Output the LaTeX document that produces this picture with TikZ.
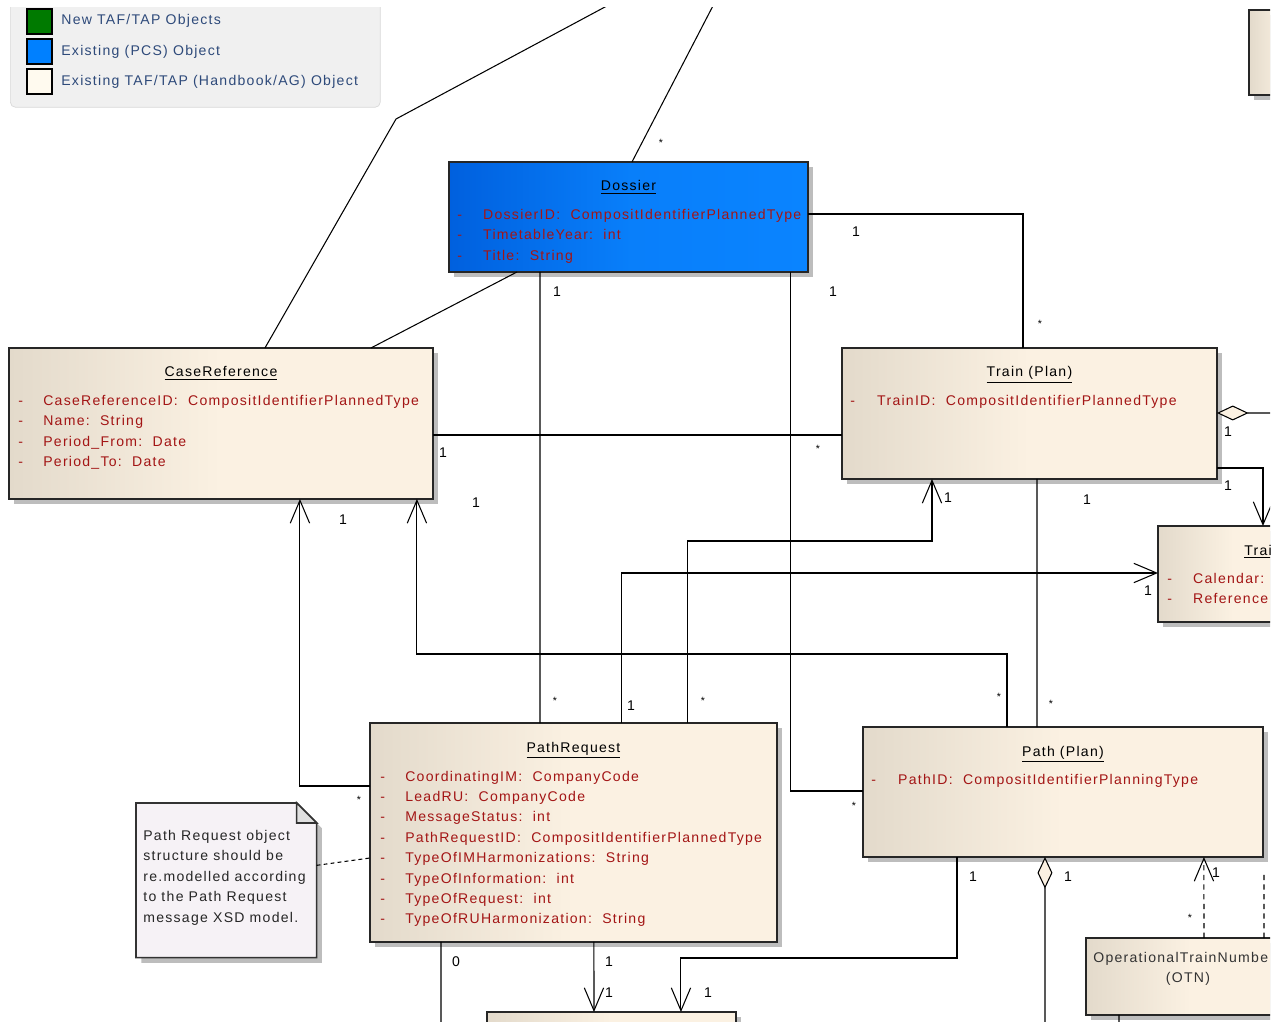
\documentclass[tikz,border=0pt]{standalone}
\usepackage{fontspec}
\setmainfont[LetterSpace=9]{Liberation Sans}
\usepackage{tikz}
\usetikzlibrary{arrows.meta}
\usetikzlibrary{shadows}
\definecolor{boxl}{HTML}{E3DACB}
\definecolor{boxr}{HTML}{FBF1E2}
\definecolor{pcsl}{HTML}{0060DE}
\definecolor{pcsr}{HTML}{0A84FF}
\definecolor{attrred}{HTML}{A31515}
\definecolor{legtext}{HTML}{2E4A7A}
\definecolor{legfill}{HTML}{F0F0F0}
\definecolor{legnew}{HTML}{007A00}
\definecolor{legpcs}{HTML}{0080FF}
\definecolor{legold}{HTML}{FFFAEF}
\definecolor{notefill}{HTML}{F6F2F6}
\definecolor{shade}{HTML}{BDBDBD}
\newcommand{\umlfont}{\fontsize{8}{10}\selectfont}
\tikzset{umlbox/.style = {draw=black!85, line width=1.1pt, inner sep=0, outer sep=0,
    anchor=north west, left color=boxl, right color=boxr, middle color=boxr,
    drop shadow={shadow xshift=3pt, shadow yshift=-3pt, fill=shade, opacity=1}}}
\tikzset{pcsbox/.style = {umlbox, left color=pcsl, right color=pcsr, middle color=pcsr!85!pcsl}}
\tikzset{title/.style = {anchor=base, inner sep=0, font=\umlfont}}
\tikzset{attr/.style = {anchor=base west, inner sep=0, text=attrred, font=\umlfont}}
\tikzset{mult/.style = {inner sep=0, font=\umlfont}}
\tikzset{multstar/.style = {inner sep=0, font=\fontsize{6}{6}\selectfont}}
\tikzset{assoc/.style = {line width=0.6pt}}
\tikzset{nav/.style = {assoc, -{Straight Barb[length=13pt, width=11pt]}}}
\tikzset{agg/.style = {assoc, {Diamond[length=18pt, width=8.5pt, fill=boxr]}-}}
\tikzset{dep/.style = {assoc, dash pattern=on 3pt off 2.5pt}}
\tikzset{notelink/.style = {assoc, dash pattern=on 2.2pt off 1.8pt}}

\begin{document}
\begin{tikzpicture}[x=0.02cm, y=-0.02cm]
  \useasboundingbox (0,0) rectangle (1281,1021);
  \fill[white] (0,0) rectangle (1281,1021);
  \clip (0,7) rectangle (1270,1021);

  % legend
  \node[draw=black!15, fill=legfill, rounded corners=3pt, anchor=north west,
    minimum width=7.4cm, minimum height=2.24cm] (legend) at (10,-5) {};
  \node[draw=black, line width=0.9pt, fill=legnew, anchor=north west, minimum size=0.5cm] (sw1) at (26,8) {};
  \node[draw=black, line width=0.9pt, fill=legpcs, anchor=north west, minimum size=0.5cm] (sw2) at (26,38) {};
  \node[draw=black, line width=0.9pt, fill=legold, anchor=north west, minimum size=0.5cm] (sw3) at (26,68) {};
  \node[anchor=base west, inner sep=0, text=legtext, font=\umlfont] (lt1) at (61,25) {New TAF/TAP Objects};
  \node[anchor=base west, inner sep=0, text=legtext, font=\umlfont] (lt2) at (61,55) {Existing (PCS) Object};
  \node[anchor=base west, inner sep=0, text=legtext, font=\umlfont] (lt3) at (61,85) {Existing TAF/TAP (Handbook/AG) Object};

  % classes
  \node[pcsbox, minimum width=7.18cm, minimum height=2.2cm] (dossier) at (449,162) {};
  \node[umlbox, minimum width=8.48cm, minimum height=3.02cm] (caseref) at (9,348) {};
  \node[umlbox, minimum width=7.5cm, minimum height=2.62cm] (train) at (842,348) {};
  \node[umlbox, minimum width=3cm, minimum height=1.92cm] (traincal) at (1158,526) {};
  \node[umlbox, minimum width=1.4cm, minimum height=1.7cm] (topbox) at (1249,10) {};
  \node[umlbox, minimum width=8.14cm, minimum height=4.38cm] (pathreq) at (370,723) {};
  \node[umlbox, minimum width=8cm, minimum height=2.6cm] (path) at (863,727) {};
  \node[umlbox, minimum width=4.2cm, minimum height=1.54cm] (otn) at (1086,938) {};
  \node[umlbox, minimum width=4.98cm, minimum height=1cm] (lowbox) at (487,1012) {};

  \node[title] (dossier-t) at ([yshift=-0.58cm]dossier.north) {\underline{Dossier}};
  \node[title] (caseref-t) at ([yshift=-0.58cm]caseref.north) {\underline{CaseReference}};
  \node[title] (train-t) at ([yshift=-0.58cm]train.north) {\underline{Train (Plan)}};
  \node[title] (pathreq-t) at ([yshift=-0.58cm]pathreq.north) {\underline{PathRequest}};
  \node[title] (path-t) at ([yshift=-0.58cm]path.north) {\underline{Path (Plan)}};
  \node[title, anchor=base west] (traincal-t) at (1244,555) {\underline{Trai}};
  \node[title, anchor=base west, text=black!80] (otn-t) at (1093,962) {OperationalTrainNumbe};
  \node[title, text=black!80] (otn-t2) at (1188,982) {(OTN)};

  \foreach \a [count=\i] in {DossierID:\ \ CompositIdentifierPlannedType, TimetableYear:\ \ int, Title:\ \ String}
    \node[attr] (dossier-\i) at (457,198.5+20.5*\i) {\makebox[14.7pt][l]{-}\a};
  \foreach \a [count=\i] in {CaseReferenceID:\ \ CompositIdentifierPlannedType, Name:\ \ String,
      Period\_From:\ \ Date, Period\_To:\ \ Date}
    \node[attr] (caseref-\i) at (18,384.5+20.5*\i) {\makebox[14.2pt][l]{-}\a};
  \node[attr] (train-1) at (850,405) {\makebox[15.3pt][l]{-}TrainID:\ \ CompositIdentifierPlannedType};
  \foreach \a [count=\i] in {Calendar:, Reference}
    \node[attr] (traincal-\i) at (1167,562.5+20.5*\i) {\makebox[14.7pt][l]{-}\a};
  \foreach \a [count=\i] in {CoordinatingIM:\ \ CompanyCode, LeadRU:\ \ CompanyCode, MessageStatus:\ \ int,
      PathRequestID:\ \ CompositIdentifierPlannedType, TypeOfIMHarmonizations:\ \ String,
      TypeOfInformation:\ \ int, TypeOfRequest:\ \ int, TypeOfRUHarmonization:\ \ String}
    \node[attr] (pathreq-\i) at (380,760.6+20.4*\i) {\makebox[14.2pt][l]{-}\a};
  \node[attr] (path-1) at (871,784) {\makebox[15.3pt][l]{-}PathID:\ \ CompositIdentifierPlanningType};

  % note
  \node[anchor=north west, inner sep=0, minimum width=3.6cm, minimum height=3.08cm] (note) at (136,803) {};
  \filldraw[draw=black!80, line width=0.9pt, fill=notefill,
    drop shadow={shadow xshift=3pt, shadow yshift=-3pt, fill=shade, opacity=1}]
    (note.north west) -- ([xshift=-0.4cm]note.north east) -- ([yshift=-0.4cm]note.north east)
    -- (note.south east) -- (note.south west) -- cycle;
  \filldraw[draw=black!80, line width=0.9pt, fill=black!12] ([xshift=-0.4cm]note.north east)
    -- ([xshift=-0.4cm, yshift=-0.4cm]note.north east) -- ([yshift=-0.4cm]note.north east) -- cycle;
  \foreach \a [count=\i] in {Path Request object, structure should be, re.modelled according,
      to the Path Request, message XSD model.}
    \node[attr, text=black!85] (note-\i) at (143,819.5+20.5*\i) {\a};
  \draw[notelink] ([yshift=0.3cm]note.east) -- ([yshift=-0.51cm]pathreq.west);

  % connectors
  \coordinate (bendA) at (396,119);
  \coordinate (outA) at (618,0);
  \coordinate (outB) at (716,0);
  \coordinate (outC) at (1281,413);
  \coordinate (outD) at (1045,1030);
  \coordinate (outE) at (1264,873);
  \coordinate (outF) at (441,1030);
  \coordinate (outG) at (1119,1030);

  \draw[assoc] ([xshift=5.12cm]caseref.north west) -- (bendA) -- (outA);
  \draw[assoc] ([xshift=3.66cm]dossier.north west) -- (outB);
  \draw[assoc] ([xshift=1.36cm]dossier.south west) -- ([xshift=7.24cm]caseref.north west);
  \draw[assoc] ([yshift=-1.04cm]dossier.north east) -| ([xshift=3.62cm]train.north west);
  \draw[assoc] ([yshift=-1.74cm]caseref.north east) -- ([yshift=-1.74cm]train.north west);
  \draw[assoc] ([xshift=1.82cm]dossier.south west) -- ([xshift=3.4cm]pathreq.north west);
  \draw[assoc] ([xshift=6.84cm]dossier.south west) |- ([yshift=-1.28cm]path.north west);
  \draw[nav] ([yshift=-1.26cm]pathreq.north west) -| ([xshift=5.82cm]caseref.south west);
  \draw[nav] ([xshift=2.88cm]path.north west) -- ++(0,-73) -| ([xshift=8.16cm]caseref.south west);
  \draw[nav] ([xshift=6.36cm]pathreq.north west) -- ++(0,-182) -| ([xshift=1.8cm]train.south west);
  \draw[nav] ([xshift=5.04cm]pathreq.north west) |- ([yshift=-0.94cm]traincal.north west);
  \draw[assoc] ([xshift=3.9cm]train.south west) -- ([xshift=3.48cm]path.north west);
  \draw[agg] ([yshift=-1.3cm]train.north east) -- (outC);
  \draw[nav] ([yshift=-2.4cm]train.north east) -| ([xshift=2.1cm]traincal.north west);
  \draw[nav] ([xshift=1.88cm]path.south west) -- ++(0,101) -| ([xshift=3.88cm]lowbox.north west);
  \draw[agg] ([xshift=3.64cm]path.south west) -- (outD);
  \draw[dep, -{Straight Barb[length=13pt, width=11pt]}] ([xshift=2.36cm]otn.north west) -- ([xshift=6.82cm]path.south west);
  \draw[dep] ([xshift=3.56cm]otn.north west) -- (outE);
  \draw[nav] ([xshift=4.48cm]pathreq.south west) -- ([xshift=2.14cm]lowbox.north west);
  \draw[assoc] ([xshift=1.42cm]pathreq.south west) -- (outF);
  \draw[assoc] ([xshift=0.66cm]otn.south west) -- (outG);

  % multiplicities
  \foreach \x/\y [count=\i] in {856/232, 443/453, 557/292, 833/292, 343/520, 476/503, 948/498,
      631/706, 1148/591, 1087/500, 1228/432, 1228/486, 973/877, 708/993, 1068/877, 1216/873,
      609/962, 609/993}
    \node[mult] (one\i) at (\x,\y) {1};
  \node[mult] (zero) at (456,962) {0};
  \foreach \x/\y [count=\i] in {661/143, 1040/324, 818/449, 555/701, 854/806, 359/800, 999/697,
      703/701, 1051/704, 1190/918}
    \node[multstar] (star\i) at (\x,\y) {*};
\end{tikzpicture}
\end{document}
